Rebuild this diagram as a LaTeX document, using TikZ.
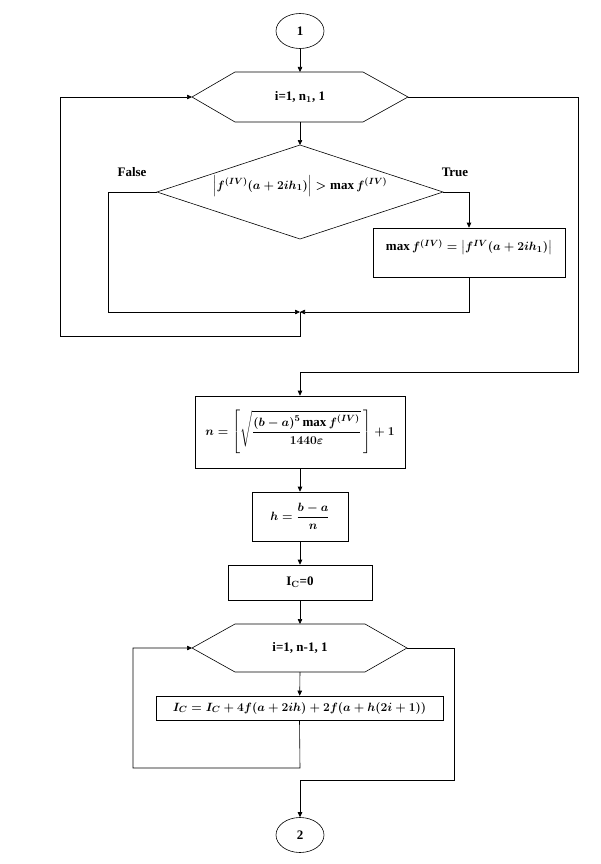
\documentclass[tikz,border=0pt]{standalone}
\usepackage{amsmath}
\usepackage{fontspec}
\setmainfont{Liberation Serif}
\usetikzlibrary{arrows.meta,shapes.geometric}
\tikzset{
  ln/.style={line width=0.6pt,draw=black},
  arr/.style={ln,-{Triangle[length=5pt,width=4.5pt]}},
  term/.style={ellipse,ln,minimum width=48pt,minimum height=35pt,inner sep=0pt,font=\fontsize{13}{15}\selectfont\bfseries},
  blk/.style={rectangle,ln,inner sep=1pt,font=\fontsize{13}{15}\selectfont\bfseries\boldmath},
  txt/.style={inner sep=0pt,font=\fontsize{13}{15}\selectfont\bfseries\boldmath}
}
\begin{document}
\begin{tikzpicture}[x=1pt,y=-1pt]
\useasboundingbox (0,0) rectangle (600,864);
\fill[white] (0,0) rectangle (600,864);
% start connector
\node[term] (c1) at (300,31) {1};
% loop hexagon 1
\coordinate (h1L) at (192,97);
\coordinate (h1R) at (408,97);
\coordinate (h1T) at (300,72);
\coordinate (h1B) at (300,122);
\draw[ln] (h1L) -- (235,72) -- (h1T) -- (363,72) -- (h1R) -- (363,122) -- (h1B) -- (235,122) -- cycle;
\node[txt] (h1) at (300,97) {i=1, n$_{\mathbf{1}}$, 1};
% diamond
\coordinate (dT) at (300,145);
\coordinate (dL) at (157,192);
\coordinate (dR) at (443,192);
\coordinate (dB) at (300,239);
\draw[ln] (dT) -- (dR) -- (dB) -- (dL) -- cycle;
\node[txt] (d) at (300,186) {$\left|f^{(IV)}(a+2ih_1)\right|>\max f^{(IV)}$};
\node[txt] (fl) at (132,172) {False};
\node[txt] (tr) at (455,172) {True};
% true box
\node[blk,minimum width=192pt,minimum height=49pt] (b2) at (469,252.5) {};
\node[txt] (b2t) at (469,247) {$\max f^{(IV)}=\left|f^{IV}(a+2ih_1)\right|$};
% junction
\coordinate (J) at (300,312);
\coordinate (JL) at (108,312);
\coordinate (JR) at (469,312);
\draw[arr] (c1) -- (h1T);
\draw[arr] (h1B) -- (dT);
\draw[arr] (dR) -| (b2.north);
\draw[arr] (dL) -| (JL) -- (J);
\draw[arr] (b2.south) -- (JR) -- (J);
\coordinate (lp1) at (300,336);
\coordinate (lp2) at (60,336);
\draw[arr] (J) -- (lp1) -- (lp2) |- (h1L);
% exit of loop 1
\coordinate (ex1) at (578,97);
\coordinate (ex2) at (578,372);
\coordinate (ex3) at (300,372);
% n box
\node[blk,minimum width=210pt,minimum height=72pt] (b3) at (300,432)
  {$n=\left[\sqrt{\dfrac{(b-a)^5\max f^{(IV)}}{1440\varepsilon}}\,\right]+1$};
\draw[arr] (h1R) -- (ex1) -- (ex2) -- (ex3) -- (b3.north);
% h box
\node[blk,minimum width=96pt,minimum height=49pt] (b4) at (300,516.5) {$h=\dfrac{b-a}{n}$};
\draw[arr] (b3) -- (b4);
% Ic=0
\node[blk,minimum width=144pt,minimum height=35pt] (b5) at (300,582.5) {I$_{\mathrm{\mathbf{C}}}$=0};
\draw[arr] (b4) -- (b5);
% loop hexagon 2
\coordinate (h2L) at (192,648);
\coordinate (h2R) at (407,648);
\coordinate (h2T) at (300,624);
\coordinate (h2B) at (300,672);
\draw[ln] (h2L) -- (235,624) -- (h2T) -- (365,624) -- (h2R) -- (365,672) -- (h2B) -- (235,672) -- cycle;
\node[txt] (h2) at (300,648) {i=1, n-1, 1};
\draw[arr] (b5) -- (h2T);
% body
\node[blk,minimum width=287pt,minimum height=24pt] (b6) at (299.5,708) {$I_C=I_C+4f(a+2ih)+2f(a+h(2i+1))$};
\draw[arr] (h2B) -- (b6);
\coordinate (lq1) at (300,768);
\coordinate (lq2) at (133,768);
\draw[arr] (b6.south) -- (lq1) -- (lq2) |- (h2L);
% end connector
\node[term] (c2) at (300,835) {2};
\coordinate (ey1) at (454,648);
\coordinate (ey2) at (454,780);
\coordinate (ey3) at (300,780);
\draw[arr] (h2R) -- (ey1) -- (ey2) -- (ey3) -- (c2);
\end{tikzpicture}
\end{document}
